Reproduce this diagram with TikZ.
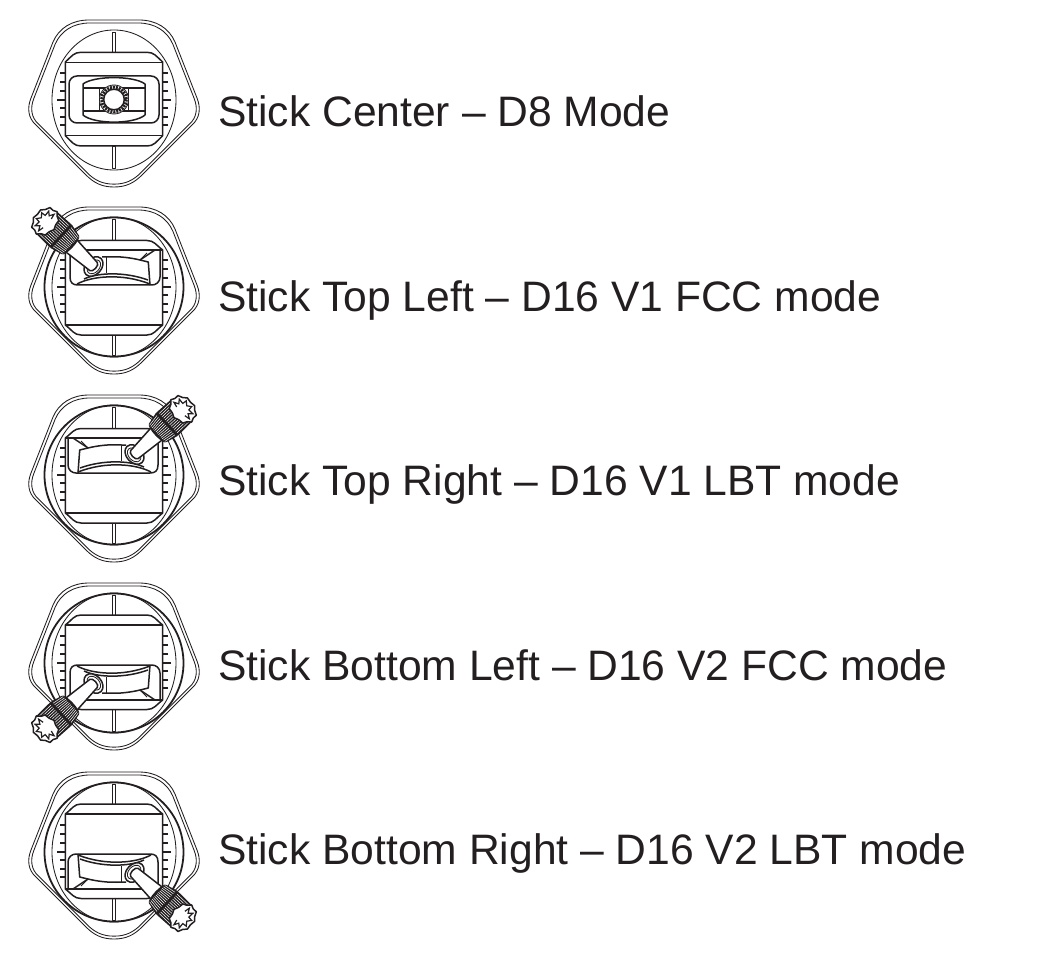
\documentclass[tikz,border=0pt]{standalone}
\usepackage{fontspec}
\setmainfont{Liberation Sans}
\definecolor{ink}{HTML}{231F20}
\tikzset{
  thick line/.style={draw=ink,line width=1.5pt,line join=round},
  thin line/.style={draw=ink,line width=0.85pt,line join=round},
  caption/.style={anchor=base west,inner sep=0pt,text=ink,font=\fontsize{42.6}{50}\selectfont},
}
\newcommand{\housingpath}{(0,-80) -- (25,-80) .. controls (42,-80) and (55,-72) .. (61,-58) -- (83,-2) .. controls (87,8) and (86,18) .. (78,25) -- (28,75) .. controls (20,83) and (12,87) .. (0,87) .. controls (-12,87) and (-20,83) .. (-28,75) -- (-78,25) .. controls (-86,18) and (-87,8) .. (-83,-2) -- (-61,-58) .. controls (-55,-72) and (-42,-80) .. (-25,-80) -- cycle}
\newcommand{\housing}{%
  \draw[thin line] \housingpath;
  \begin{scope}[scale=0.965,shift={(0,0.2)}]\draw[thin line] \housingpath;\end{scope}
  \draw[thin line] (0,0) ellipse [x radius=62,y radius=70];
  \foreach \ty in {-27,-18,-9,8,17,25}{
    \draw[thick line] (-54,\ty) -- (-48,\ty);
    \draw[thick line] (54,\ty) -- (48,\ty);
  }
  \draw[thick line] (-57,0) -- (-48,0);
  \draw[thick line] (57,0) -- (48,0);
  \draw[thin line,fill=white] (-1.2,-68) rectangle (1.2,-46);
  \draw[thin line,fill=white] (-1.2,46) rectangle (1.2,68);
}
\newcommand{\centerstick}{%
  \draw[thick line,fill=white] (-48.7,-37.7) -- (-48.7,-38) .. controls (-42,-44) and (-40,-47.7) .. (-33,-47.7) -- (33,-47.7) .. controls (40,-47.7) and (42,-44) .. (48.7,-38) -- (48.7,35.7) .. controls (42,42) and (40,46) .. (33,46) -- (-33,46) .. controls (-40,46) and (-42,42) .. (-48.7,35.7) -- cycle;
  \draw[thick line] (-48.7,-37.7) -- (48.7,-37.7);
  \draw[thick line] (-48.7,35.7) -- (48.7,35.7);
  \draw[thick line,rounded corners=8pt] (-45,-24) rectangle (45,23);
  \draw[thick line] (-31,-16) .. controls (-20,-24.5) and (20,-24.5) .. (31,-16) -- (31,15) .. controls (20,24.5) and (-20,24.5) .. (-31,15) -- cycle;
  \draw[ink,line width=2pt] (-31,-12) -- (31,-12);
  \draw[ink,line width=2pt] (-31,11) -- (31,11);
  \draw[thick line,fill=white] (-14.5,-12) rectangle (14.5,11);
  \draw[thin line,fill=white] (0,-0.5) circle [radius=14.5];
  \draw[ink,line width=3pt,dash pattern=on 2pt off 1pt] (0,-0.5) circle [radius=12.4];
  \draw[thick line,fill=white] (0,-0.5) circle [radius=10.3];
}
\newcommand{\stick}{%
  \draw[ink,line width=1.8pt] (0,0) circle [radius=69.5];
  \draw[thick line,fill=white] (-48.7,-37) .. controls (-42,-42) and (-40,-46.5) .. (-33,-46.5) -- (33,-46.5) .. controls (40,-46.5) and (42,-42) .. (48.7,-37) -- (48.7,38) .. controls (42,43) and (40,48) .. (33,48) -- (-33,48) .. controls (-40,48) and (-42,43) .. (-48.7,38) -- cycle;
  \draw[thick line] (-48.7,-37) -- (48.7,-37);
  \draw[thick line] (-48.7,38) -- (48.7,38);
  \draw[thick line] (-44,-37) -- (-44,-10) .. controls (-44,-4) and (-41,-2) .. (-36,-2) -- (38,-2) .. controls (42,-2) and (46,-5) .. (46,-10) -- (46,-37);
  \draw[thick line] (-37,-3) .. controls (-22,-11) and (8,-14) .. (36,-3);
  \draw[thick line] (-30,-8) .. controls (-15,-15) and (12,-15) .. (34,-7);
  \draw[thick line] (-12,-30) -- (-7.3,-30) .. controls (5,-31) and (18,-29) .. (26,-27) -- (34.3,-25) -- (36,-2);
  \draw[thick line] (-7.3,-30) -- (-7.3,-14);
  \draw[thick line] (26,-27) -- (41,-37);
  \draw[thin line] (26,-27) -- (33,-34);
  \begin{scope}[shift={(-20.5,-20.5)},rotate=137]
    \draw[thick line,fill=white] (0,0) ellipse [x radius=8,y radius=11];
    \draw[thin line] (-0.5,0) ellipse [x radius=5.5,y radius=8];
    \draw[thick line,fill=white] (0,-5.5) -- (33,-8.5) -- (33,8.5) -- (0,5.5) arc[start angle=90,end angle=270,x radius=2.8,y radius=5.5] -- cycle;
    \draw[thick line,fill=ink] (32,-12) -- (44,-15) -- (44,15) -- (32,12) arc[start angle=90,end angle=270,x radius=3,y radius=12] -- cycle;
    \draw[thick line,fill=ink] (45,-15) -- (65,-14.5) -- (65,14.5) -- (45,15) -- cycle;
    \foreach \v in {-13.2,-11,...,13.3}{
      \draw[white,line width=0.5pt] (31,\v*0.84) -- (43,\v);
      \draw[white,line width=0.5pt] (46,\v) -- (65,\v);
    }
    \draw[thick line,fill=white] plot[samples at={0,20,...,340}] ({66+12*(1-0.06*(1+cos(9*\x)))*cos(\x)},{15.5*(1-0.06*(1+cos(9*\x)))*sin(\x)}) -- cycle;
    \draw[ink,line width=1.2pt,line join=miter] plot[samples at={-120,-100,...,120}] ({66+9*(1-0.2*(1+cos(9*\x)))*cos(\x)},{11.5*(1-0.2*(1+cos(9*\x)))*sin(\x)});
  \end{scope}
}
\begin{document}
\begin{tikzpicture}[x=1pt,y=-1pt]
\useasboundingbox[fill=white] (0,0) rectangle (1040,965);
\begin{scope}[shift={(114,100)}]\housing\centerstick\end{scope}
\begin{scope}[shift={(114,287)}]\housing\stick\end{scope}
\begin{scope}[shift={(114,475)}]\housing\begin{scope}[xscale=-1]\stick\end{scope}\end{scope}
\begin{scope}[shift={(114,663)}]\housing\begin{scope}[yscale=-1]\stick\end{scope}\end{scope}
\begin{scope}[shift={(114,852)}]\housing\begin{scope}[xscale=-1,yscale=-1]\stick\end{scope}\end{scope}
\node[caption] (c1) at (218,127) {Stick Center – D8 Mode};
\node[caption] (c2) at (218,311) {Stick Top Left – D16 V1 FCC mode};
\node[caption] (c3) at (218,495) {Stick Top Right – D16 V1 LBT mode};
\node[caption] (c4) at (218,680) {Stick Bottom Left – D16 V2 FCC mode};
\node[caption] (c5) at (218,864) {Stick Bottom Right – D16 V2 LBT mode};
\end{tikzpicture}
\end{document}
